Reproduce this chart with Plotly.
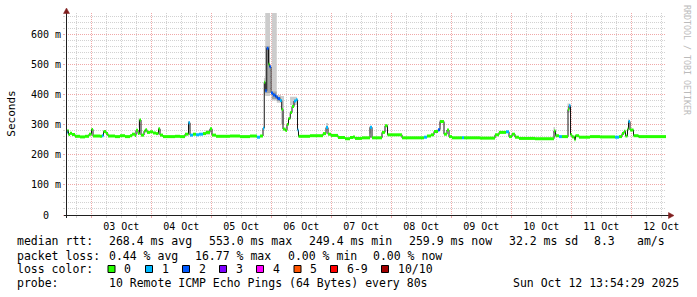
import pandas as pd
import plotly.graph_objects as go

# ------------------------------------------------------------------ data
WINDOW_START = "2025-10-02 13:54:29"
WINDOW_HOURS = 240

# median rtt as steps: start of each step (hours after window start), value (ms), lost pings (of 10)
seg_hours = [0.0, 0.6, 1.0, 1.6, 2.4, 3.6, 5.6, 7.6, 9.2, 10.2, 10.8, 13.6, 14.4, 15.0, 16.0, 16.8,
             19.6, 21.6, 23.6, 25.6, 26.4, 27.6, 28.0, 28.8, 29.4, 30.0, 31.2, 31.8, 32.4, 33.6,
             34.8, 36.0, 37.0, 37.6, 38.8, 43.6, 45.6, 47.6, 49.0, 49.6, 50.8, 52.0, 53.2, 54.8,
             56.0, 57.6, 58.4, 60.0, 65.6, 69.6, 73.6, 76.4, 77.6, 78.8, 79.3, 79.7, 80.3, 81.0,
             81.4, 82.0, 82.8, 83.8, 84.6, 85.6, 86.3, 86.8, 87.8, 88.4, 89.0, 89.7, 90.4, 91.2,
             92.0, 92.6, 93.0, 97.6, 102.8, 104.0, 104.8, 106.0, 108.8, 111.6, 113.6, 114.8,
             115.6, 118.4, 121.6, 122.4, 126.4, 127.6, 128.6, 134.4, 143.2, 144.4, 146.0, 147.2,
             148.8, 149.6, 151.2, 152.4, 153.2, 154.4, 158.4, 159.2, 165.6, 171.6, 173.2, 176.0,
             177.2, 178.4, 179.6, 181.2, 187.6, 195.2, 195.8, 197.2, 198.4, 200.8, 201.2, 201.8,
             202.4, 203.4, 203.8, 205.2, 209.6, 213.6, 219.6, 221.2, 222.4, 223.2, 223.8, 224.6,
             225.0, 225.6, 227.0, 229.0]
median_ms = [274, 280, 267, 271, 267, 261, 259, 261, 268, 284, 262, 261, 263, 277, 270, 262,
             260, 263, 260, 263, 268, 264, 281, 270, 315, 265, 278, 283, 274, 276,
             272, 270, 286, 265, 260, 261, 260, 268, 306, 265, 268, 266, 268, 270,
             274, 286, 265, 261, 262, 260, 262, 258, 262, 288, 440, 412, 553, 500,
             492, 405, 398, 392, 386, 380, 350, 285, 280, 300, 320, 340, 360, 378,
             382, 282, 261, 263, 270, 290, 268, 264, 257, 253, 257, 259,
             254, 256, 291, 256, 274, 296, 266, 256, 258, 262, 266, 277,
             283, 310, 268, 282, 260, 256, 256, 256, 255, 266, 274, 276,
             260, 268, 258, 254, 253, 279, 263, 260, 260, 350, 362, 266,
             259, 250, 263, 258, 260, 259, 258, 260, 270, 278, 262, 285,
             310, 282, 263, 260]
loss_pings = [1, 0, 0, 0, 0, 0, 0, 0, 0, 0, 0, 0, 1, 0, 0, 0,
              0, 0, 0, 0, 0, 0, 0, 0, 0, 0, 0, 0, 0, 0,
              0, 0, 0, 0, 0, 0, 0, 0, 1, 1, 0, 1, 1, 0,
              0, 0, 0, 0, 0, 0, 0, 1, 0, 1, 0, 2, 2, 0,
              2, 2, 2, 2, 2, 1, 0, 0, 0, 0, 0, 0, 0, 1,
              1, 1, 0, 0, 0, 1, 0, 0, 0, 0, 0, 0,
              0, 0, 1, 0, 0, 0, 0, 0, 1, 0, 0, 0,
              2, 0, 0, 0, 0, 0, 1, 0, 0, 0, 0, 1,
              0, 0, 0, 0, 0, 0, 0, 1, 0, 0, 1, 0,
              0, 0, 0, 0, 0, 0, 1, 0, 0, 0, 0, 0,
              1, 0, 0, 0]

# ping spread ("smoke"): outer range of the 10 pings
smoke_from_h = [29.0, 48.8, 55.8, 79.2, 79.7, 82.3, 84.3, 86.0, 89.6, 104.0, 121.4, 149.4, 195.0, 200.6, 224.8]
smoke_to_h = [29.6, 49.4, 57.6, 79.7, 81.6, 84.3, 86.0, 87.2, 92.4, 104.8, 122.0, 150.0, 195.6, 201.6, 225.4]
smoke_lo_ms = [290, 285, 266, 400, 395, 380, 372, 300, 365, 283, 270, 300, 272, 340, 300]
smoke_hi_ms = [318, 312, 282, 455, 700, 700, 398, 395, 392, 305, 295, 316, 292, 370, 318]
# denser inner part of the spread
core_from_h = [79.7, 82.3, 84.3]
core_to_h = [81.6, 84.3, 86.0]
core_lo_ms = [405, 385, 378]
core_hi_ms = [560, 410, 392]

day_ticks = ["2025-10-%02d" % d for d in range(3, 13)]
day_labels = ["03 Oct", "04 Oct", "05 Oct", "06 Oct", "07 Oct", "08 Oct", "09 Oct",
              "10 Oct", "11 Oct", "12 Oct"]
y_ticks_ms = [0, 100, 200, 300, 400, 500, 600]
y_tick_labels = ["0\u00a0\u00a0", "100 m", "200 m", "300 m", "400 m", "500 m", "600 m"]

loss_labels = ["0", "1", "2", "3", "4", "5", "6-9", "10/10"]
loss_colors = ["#26ff00", "#00b8ff", "#0059ff", "#7e00ff", "#ff00ff", "#ff5500", "#ff0000", "#a10000"]

rtt_stats = ["268.4 ms avg", "553.0 ms max", "249.4 ms min", "259.9 ms now", "32.2 ms sd", "8.3", "am/s"]
loss_stats = ["0.44 % avg", "16.77 % max", "0.00 % min", "0.00 % now"]
probe_text = "10 Remote ICMP Echo Pings (64 Bytes) every 80s"
stamp_text = "Sun Oct 12 13:54:29 2025"

# ------------------------------------------------------------------ helpers
t0 = pd.Timestamp(WINDOW_START)


def ts(h):
    return (t0 + pd.to_timedelta(h, unit="h")).strftime("%Y-%m-%d %H:%M:%S")


end_h = WINDOW_HOURS
W, H = 697, 297
ML, MT, PW, PH = 66, 13, 600, 202
FONT = "DejaVu Sans Mono"


def px(x):
    return (x - ML) / PW


def py(y):
    return (MT + PH - y) / PH


def loss_class(n):
    if n <= 5:
        return n
    if n < 10:
        return 6
    return 7


fig = go.Figure()


def band_trace(f, t, lo, hi, color):
    xs, ys = [], []
    for a, b, l, u in zip(f, t, lo, hi):
        xs += [ts(a), ts(b), ts(b), ts(a), ts(a), None]
        ys += [l / 1000, l / 1000, u / 1000, u / 1000, l / 1000, None]
    return go.Scatter(x=xs, y=ys, mode="lines", fill="toself", fillcolor=color,
                      line=dict(width=0, color=color), hoverinfo="skip", showlegend=False)


fig.add_trace(band_trace(smoke_from_h, smoke_to_h, smoke_lo_ms, smoke_hi_ms, "#cccccc"))
fig.add_trace(band_trace(core_from_h, core_to_h, core_lo_ms, core_hi_ms, "#a4a4a4"))

# median step line
mx = [ts(h) for h in seg_hours] + [ts(end_h)]
my = [v / 1000 for v in median_ms] + [median_ms[-1] / 1000]
fig.add_trace(go.Scatter(x=mx, y=my, mode="lines", line=dict(color="#151515", width=1, shape="hv"),
                         hoverinfo="skip", showlegend=False))

# loss coloured median segments
ends = seg_hours[1:] + [end_h]
for ci, col in enumerate(loss_colors):
    xs, ys = [], []
    for a, b, v, n in zip(seg_hours, ends, median_ms, loss_pings):
        if loss_class(n) == ci:
            xs += [ts(a), ts(b), None]
            ys += [v / 1000, v / 1000, None]
    if xs:
        fig.add_trace(go.Scatter(x=xs, y=ys, mode="lines", line=dict(color=col, width=3),
                                 hoverinfo="skip", showlegend=False))

GRID = "#d2d2d2"
MGRID = "#f0a8a8"

fig.update_layout(
    width=W, height=H, margin=dict(l=ML, r=W - ML - PW, t=MT, b=H - MT - PH),
    paper_bgcolor="white", plot_bgcolor="white", showlegend=False,
    font=dict(family=FONT, size=10, color="black"),
    xaxis=dict(type="date", range=[ts(0), ts(end_h)], tickmode="array", tickvals=day_ticks,
               ticktext=day_labels, ticklabelshift=30, ticklabelstandoff=0,
               ticks="outside", ticklen=2, tickcolor=MGRID, tickwidth=1,
               showgrid=True, gridcolor=MGRID, griddash="1px,1px", gridwidth=1,
               minor=dict(tick0="2025-10-03", dtick=6 * 3600 * 1000, showgrid=True, gridcolor=GRID,
                          griddash="1px,1px", gridwidth=1, ticks="outside", ticklen=2, tickcolor=GRID),
               showline=False, zeroline=False, tickfont=dict(family=FONT, size=10)),
    yaxis=dict(range=[0, 0.67], tickmode="array", tickvals=[v / 1000 for v in y_ticks_ms],
               ticktext=y_tick_labels, ticks="outside", ticklen=2, tickcolor=MGRID,
               ticklabelstandoff=0,
               showgrid=True, gridcolor=MGRID, griddash="1px,1px", gridwidth=1,
               minor=dict(tick0=0, dtick=0.02, showgrid=True, gridcolor=GRID, griddash="1px,1px",
                          gridwidth=1, ticks="outside", ticklen=2, tickcolor=GRID),
               showline=False, zeroline=False, tickfont=dict(family=FONT, size=10)),
)

shapes = []
AX = "#1f1f1f"
ARROW = "#801f1f"
# axes with arrows
shapes.append(dict(type="line", xref="paper", yref="paper", x0=px(66.5), x1=px(66.5),
                   y0=py(218), y1=py(13), line=dict(color=AX, width=1), layer="above"))
shapes.append(dict(type="line", xref="paper", yref="paper", x0=px(64), x1=px(669),
                   y0=py(215.5), y1=py(215.5), line=dict(color=AX, width=1), layer="above"))
shapes.append(dict(type="path", xref="paper", yref="paper",
                   path="M %f,%f L %f,%f L %f,%f Z" % (px(63.5), py(13.5), px(69.5), py(13.5),
                                                      px(66.5), py(8)),
                   fillcolor=ARROW, line=dict(color=ARROW, width=0.5), layer="above"))
shapes.append(dict(type="path", xref="paper", yref="paper",
                   path="M %f,%f L %f,%f L %f,%f Z" % (px(668.5), py(212.5), px(668.5), py(218.5),
                                                      px(674), py(215.5)),
                   fillcolor=ARROW, line=dict(color=ARROW, width=0.5), layer="above"))

annotations = []


def txt(x, y, s, anchor="left", size=11.5, color="black", angle=0):
    annotations.append(dict(xref="paper", yref="paper", x=px(x), y=py(y), text=s, showarrow=False,
                            xanchor=anchor, yanchor="middle", borderpad=0, textangle=angle,
                            font=dict(family=FONT, size=size, color=color)))


# axis title and watermark
txt(10.7, 114, "Seconds", anchor="center", size=11, angle=-90)
txt(687, 60, "RRDTOOL / TOBI OETIKER", anchor="center", size=8.3, color="#bbbbbb", angle=90)

# legend rows
L1, L2, L3, L4 = 241.5, 255.5, 269, 283
txt(16, L1, "median rtt:")
for x, s in zip([107.6, 207.6, 307.6, 407.6, 507.6, 593, 635.6], rtt_stats):
    txt(x, L1, s)
txt(16, L2, "packet loss:")
for x, s in zip([107.6, 193.7, 286.7, 372.4], loss_stats):
    txt(x, L2, s)
txt(16, L3, "loss color:")
box_left = [108, 145.5, 182.5, 219.5, 256.5, 294, 330.5, 381.5]
for bx, lab, col in zip(box_left, loss_labels, loss_colors):
    shapes.append(dict(type="rect", xref="paper", yref="paper", x0=px(bx), x1=px(bx + 7),
                       y0=py(265.5), y1=py(272.5), fillcolor=col, line=dict(color="black", width=1)))
    txt(bx + 15, L3, lab)
txt(16, L4, "probe:")
txt(107.6, L4, probe_text)
txt(680, L4, stamp_text, anchor="right")

fig.update_layout(shapes=shapes, annotations=annotations)
fig.write_html("out.html")
